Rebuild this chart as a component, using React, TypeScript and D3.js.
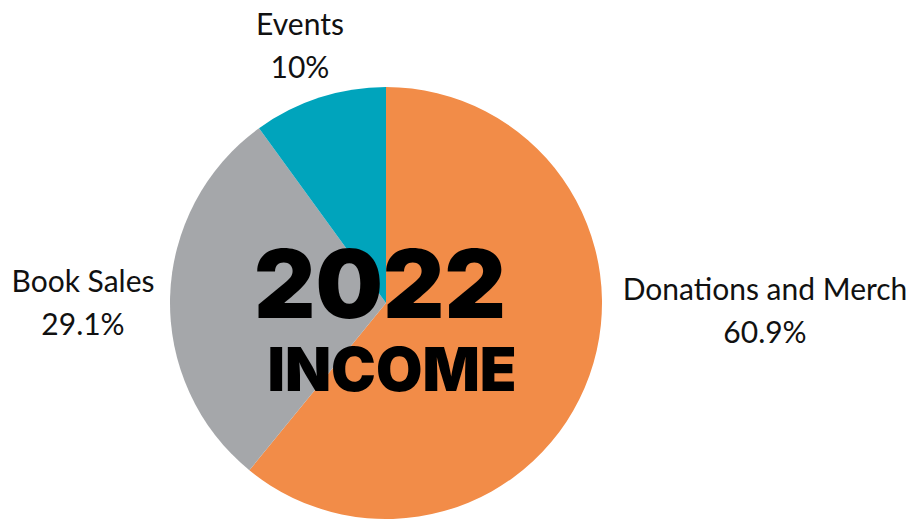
import React from "react";
import * as d3 from "d3";

const categories = ["Donations and Merch", "Book Sales", "Events"];
const values = [60.9, 29.1, 10];
const valueLabels = ["60.9%", "29.1%", "10%"];
const colors = ["#F28C48", "#A5A7AA", "#00A4BC"];
const titleLines = ["2022", "INCOME"];

const W = 913;
const H = 519;

export default function App() {
  const cx = 386;
  const cy = 303;
  const r = 216;
  const pie = d3.pie<number>().sort(null).value((d) => d)(values);
  const arc = d3.arc<d3.PieArcDatum<number>>().innerRadius(0).outerRadius(r);

  const labelPos = [
    { x: 765, y: 300 },
    { x: 83, y: 292 },
    { x: 300, y: 35 },
  ];

  return (
    <svg
      width={W}
      height={H}
      style={{ position: "absolute", left: 0, top: 0, background: "#fff" }}
    >
      <g transform={`translate(${cx},${cy})`}>
        {pie.map((p, i) => (
          <path key={i} d={arc(p) || ""} fill={colors[i]} />
        ))}
      </g>
      {categories.map((c, i) => (
        <g key={c} fontFamily="Lato, sans-serif" fontSize={30} fill="#111" textAnchor="middle">
          <text x={labelPos[i].x} y={labelPos[i].y}>{c}</text>
          <text x={labelPos[i].x} y={labelPos[i].y + 43}>{valueLabels[i]}</text>
        </g>
      ))}
      <text
        textAnchor="middle"
        fontFamily="Inter, sans-serif"
        fontWeight={900}
        fill="#000"
      >
        <tspan x={380} y={318} fontSize={95}>{titleLines[0]}</tspan>
        <tspan x={392} y={391} fontSize={60}>{titleLines[1]}</tspan>
      </text>
    </svg>
  );
}
